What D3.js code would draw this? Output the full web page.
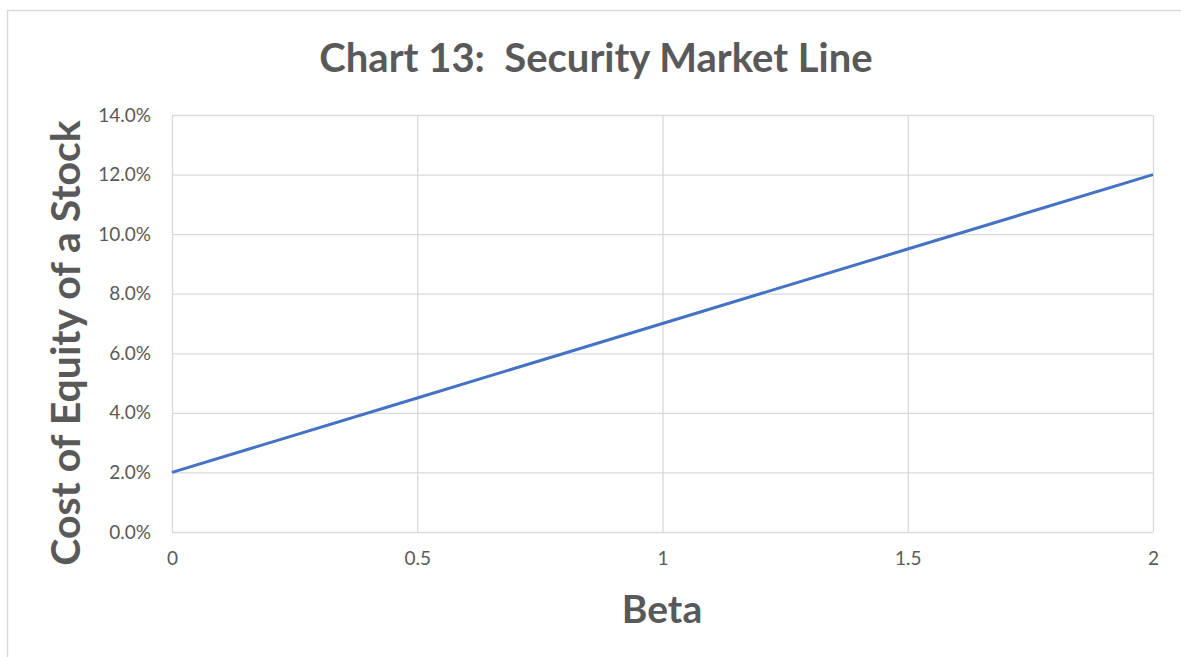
<!DOCTYPE html>
<html>
<head>
<meta charset="utf-8">
<script src="https://cdn.jsdelivr.net/npm/d3@7"></script>
<style>
  body { margin: 0; background: #fff; }
  svg text { font-family: Lato, "Open Sans", sans-serif; fill: #595959; }
</style>
</head>
<body>
<div id="chart"></div>
<script>
// Security Market Line: cost of equity vs beta
const betas = [0, 0.5, 1, 1.5, 2];
const costOfEquity = [0.02, 0.045, 0.07, 0.095, 0.12];
const yTicks = [0, 0.02, 0.04, 0.06, 0.08, 0.10, 0.12, 0.14];
const xTicks = [0, 0.5, 1, 1.5, 2];

const width = 1181, height = 657;
const margin = { top: 115, right: 28, bottom: 125, left: 172 };
const innerW = width - margin.left - margin.right;
const innerH = height - margin.top - margin.bottom;

const svg = d3.select("#chart").append("svg")
    .attr("width", width).attr("height", height);

// outer chart border (runs off the right and bottom edges)
svg.append("rect")
    .attr("x", 7.5).attr("y", 10.5)
    .attr("width", width + 10).attr("height", height + 10)
    .attr("fill", "none").attr("stroke", "#d9d9d9").attr("stroke-width", 1.5);

const g = svg.append("g").attr("transform", `translate(${margin.left},${margin.top})`);

const x = d3.scaleLinear().domain([0, 2]).range([0, innerW]);
const y = d3.scaleLinear().domain([0, 0.14]).range([innerH, 0]);

// gridlines
g.append("g")
    .call(d3.axisLeft(y).tickValues(yTicks).tickSize(-innerW).tickFormat(""))
    .call(s => s.select(".domain").remove())
    .selectAll("line").attr("stroke", "#d9d9d9").attr("stroke-width", 1.3);
g.append("g")
    .call(d3.axisBottom(x).tickValues(xTicks).tickSize(innerH).tickFormat(""))
    .call(s => s.select(".domain").remove())
    .selectAll("line").attr("stroke", "#d9d9d9").attr("stroke-width", 1.3);

// tick labels
g.append("g")
    .call(d3.axisLeft(y).tickValues(yTicks).tickSize(0).tickPadding(21).tickFormat(d3.format(".1%")))
    .call(s => s.select(".domain").remove())
    .selectAll("text").style("font-size", "19px").attr("fill", "#595959");
g.append("g").attr("transform", `translate(0,${innerH})`)
    .call(d3.axisBottom(x).tickValues(xTicks).tickSize(0).tickPadding(20).tickFormat(d3.format("")))
    .call(s => s.select(".domain").remove())
    .selectAll("text").style("font-size", "19px").attr("fill", "#595959");

// the line
const data = betas.map((b, i) => ({ b, c: costOfEquity[i] }));
g.append("path").datum(data)
    .attr("fill", "none")
    .attr("stroke", "#4472C4")
    .attr("stroke-width", 3)
    .attr("d", d3.line().x(d => x(d.b)).y(d => y(d.c)));

// titles
svg.append("text").attr("x", 596).attr("y", 72)
    .attr("text-anchor", "middle")
    .style("white-space", "pre")
    .style("font-size", "40px").style("font-weight", "bold")
    .text("Chart 13:  Security Market Line");
svg.append("text").attr("x", 662).attr("y", 623)
    .attr("text-anchor", "middle")
    .style("font-size", "39px").style("font-weight", "bold")
    .text("Beta");
svg.append("text")
    .attr("transform", `translate(80,343) rotate(-90)`)
    .attr("text-anchor", "middle")
    .style("font-size", "41px").style("font-weight", "bold")
    .text("Cost of Equity of a Stock");
</script>
</body>
</html>
